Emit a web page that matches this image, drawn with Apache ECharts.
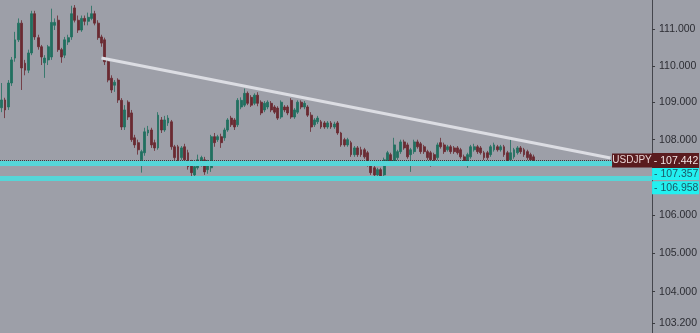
<!DOCTYPE html>
<html>
<head>
<meta charset="utf-8">
<script src="https://cdn.jsdelivr.net/npm/echarts@6/dist/echarts.min.js"></script>
<style>
html,body{margin:0;padding:0;background:#9d9fa8;}
#chart{width:700px;height:333px;}
</style>
</head>
<body>
<div id="chart"></div>
<script>
// USDJPY candles
const opens = [
108.86,109.07,108.88,109.53,110.21,110.71,111.17,110.07,109.88,110.35,
111.43,110.77,110.52,110.08,110.16,110.24,111.11,111.25,110.44,110.29,
110.65,110.79,111.59,111.25,110.98,111.30,111.22,111.30,111.43,111.17,
110.79,110.71,110.11,109.66,109.47,109.61,109.06,108.34,109.01,108.72,
108.05,107.92,107.46,107.65,108.18,108.26,107.92,107.78,108.53,108.26,
108.45,108.48,107.81,107.81,107.52,107.81,107.65,107.38,107.06,107.25,
107.33,107.46,107.20,107.25,108.08,108.00,108.08,108.05,108.26,108.58,
108.53,108.40,108.88,108.93,109.25,109.14,108.98,109.20,109.01,108.80,
108.88,108.98,108.88,108.85,108.61,108.88,108.88,109.06,108.61,108.74,
109.01,108.88,108.88,108.66,108.40,108.48,108.48,108.45,108.34,108.45,
108.34,108.45,108.18,108.00,107.86,107.92,107.60,107.78,107.73,107.73,
107.65,107.38,107.25,107.06,107.20,107.06,107.38,107.60,107.41,107.52,
107.68,107.94,107.86,107.60,107.68,107.94,107.89,107.81,107.68,107.65,
107.60,107.52,107.92,107.86,107.73,107.81,107.78,107.78,107.73,107.54,
107.33,107.54,107.73,107.81,107.78,107.65,107.65,107.60,107.73,107.81,
107.73,107.81,107.65,107.46,107.54,107.65,107.78,107.73,107.68,107.60,
107.54];
const closes = [
109.07,108.80,109.53,110.16,110.71,111.17,109.94,109.88,110.35,111.43,
110.79,110.52,110.24,110.21,110.52,111.19,111.19,110.44,110.24,110.71,
110.77,111.43,111.25,110.98,111.30,111.22,111.33,111.43,111.17,110.77,
110.62,110.11,109.61,109.34,109.55,109.07,108.34,108.80,108.61,108.00,
107.86,107.73,107.68,108.21,108.26,107.86,107.78,108.66,108.26,108.53,
108.58,107.81,107.52,107.46,107.78,107.46,107.28,107.12,107.28,107.46,
107.52,107.14,107.38,108.08,107.92,108.08,107.92,108.26,108.53,108.40,
108.34,109.06,109.06,109.25,108.98,108.93,109.20,108.98,108.72,108.98,
109.01,108.80,108.74,108.58,109.01,108.80,108.72,108.61,108.80,109.01,
108.88,108.98,108.66,108.34,108.53,108.58,108.34,108.34,108.45,108.34,
108.42,108.18,107.86,107.86,108.00,107.60,107.78,107.60,107.60,107.54,
107.33,107.12,107.06,107.20,107.01,107.46,107.65,107.41,107.86,107.68,
107.94,107.78,107.54,107.73,107.94,107.81,107.68,107.68,107.52,107.46,
107.46,107.86,107.81,107.68,107.81,107.68,107.68,107.65,107.54,107.38,
107.60,107.81,107.81,107.68,107.65,107.52,107.52,107.81,107.86,107.73,
107.81,107.60,107.41,107.65,107.73,107.78,107.68,107.60,107.52,107.46,
107.44];
const lows = [
108.74,108.58,108.80,109.45,110.11,110.65,109.34,109.74,109.80,110.29,
110.71,110.44,110.02,109.67,110.02,110.16,110.98,110.38,110.08,110.21,
110.57,110.71,111.19,110.90,110.93,111.11,111.11,111.25,111.11,110.71,
110.52,110.02,109.55,109.26,109.29,108.99,108.26,108.26,108.53,107.94,
107.78,107.60,107.12,107.57,108.10,107.78,107.70,107.73,108.18,108.21,
108.37,107.73,107.46,107.41,107.46,107.38,107.20,106.93,106.98,107.20,
107.28,107.06,107.09,107.14,107.81,107.94,107.78,107.97,108.21,108.34,
108.26,108.34,108.82,108.88,108.93,108.88,108.93,108.90,108.66,108.74,
108.82,108.74,108.69,108.53,108.56,108.74,108.66,108.56,108.56,108.69,
108.82,108.82,108.61,108.21,108.34,108.42,108.29,108.29,108.29,108.29,
108.29,108.13,107.81,107.81,107.81,107.54,107.54,107.54,107.54,107.49,
107.28,107.06,107.01,106.93,106.93,107.01,107.33,107.36,107.36,107.46,
107.62,107.73,107.49,107.14,107.62,107.76,107.62,107.62,107.46,107.28,
107.41,107.46,107.76,107.62,107.68,107.62,107.62,107.60,107.49,107.33,
107.25,107.49,107.68,107.62,107.60,107.46,107.46,107.54,107.68,107.68,
107.68,107.54,107.36,107.41,107.49,107.60,107.62,107.54,107.46,107.41,
107.38];
const highs = [
109.53,109.13,109.61,110.24,110.93,111.30,111.25,110.16,110.44,111.51,
111.51,110.85,110.57,110.29,110.57,111.57,111.30,111.38,110.49,110.79,
110.85,111.65,111.67,111.38,111.38,111.38,111.46,111.65,111.51,111.25,
110.85,110.77,110.16,109.74,109.61,109.66,109.12,108.93,109.06,108.80,
108.13,108.00,107.73,108.32,108.37,108.32,108.00,108.74,108.61,108.64,
108.66,108.53,107.86,107.86,107.83,107.89,107.73,107.46,107.33,107.60,
107.57,107.54,107.46,108.13,108.18,108.13,108.16,108.32,108.58,108.64,
108.58,109.12,109.14,109.38,109.30,109.20,109.25,109.28,109.06,109.04,
109.06,109.04,108.93,108.90,109.06,108.93,108.93,109.12,108.85,109.06,
109.06,109.04,108.93,108.74,108.58,108.64,108.53,108.50,108.50,108.50,
108.48,108.50,108.21,108.05,108.05,107.97,107.83,107.83,107.81,107.78,
107.70,107.44,107.30,107.25,107.25,107.52,107.70,107.65,108.05,107.73,
108.00,108.00,107.92,107.78,108.00,108.00,107.94,107.86,107.73,107.70,
107.65,107.92,108.05,107.92,107.86,107.86,107.83,107.83,107.78,107.60,
107.65,107.86,107.89,107.86,107.83,107.70,107.70,107.86,107.92,107.86,
107.86,107.86,107.70,108.05,107.78,107.83,107.83,107.78,107.73,107.65,
107.60];

// bar slots on the time axis (the right part stays empty)
const slotCount = 196;
const categories = Array.from({length: slotCount}, (_, i) => String(i + 1));

// price levels
const lastPrice = 107.442;
const levelPrices = [107.357, 106.958];
const tickLabels = [103.2, 104, 105, 106, 108, 109, 110, 111];
// trend line: [category index, price]
const trendStart = [30, 110.21];
const trendEnd = [183, 107.51];

const candleData = opens.map((o, i) => [o, closes[i], lows[i], highs[i]]);

const chart = echarts.init(document.getElementById('chart'), null, {renderer: 'canvas'});
const font = 'Liberation Sans, Arial, sans-serif';

chart.setOption({
  animation: false,
  backgroundColor: '#9d9fa8',
  grid: {left: 0, right: 47, top: 0, bottom: 0},
  xAxis: {
    type: 'category',
    data: categories,
    boundaryGap: true,
    axisLine: {show: false},
    axisTick: {show: false},
    axisLabel: {show: false},
    splitLine: {show: false}
  },
  yAxis: {
    type: 'log',
    logBase: 10,
    position: 'right',
    min: 102.94,
    max: 111.81,
    axisLine: {show: true, lineStyle: {color: '#45464d', width: 1}},
    axisTick: {show: true, length: 3, lineStyle: {color: '#3a3b40'}, customValues: tickLabels},
    axisLabel: {
      color: '#2c2d33', fontSize: 10.5, fontFamily: font, margin: 7,
      customValues: tickLabels,
      formatter: v => Number(v).toFixed(3)
    },
    splitLine: {show: false}
  },
  series: [{
    type: 'candlestick',
    data: candleData,
    barWidth: 2.4,
    itemStyle: {
      color: '#21705f', color0: '#6a2a31',
      borderColor: '#21705f', borderColor0: '#6a2a31',
      borderWidth: 0.8
    },
    markLine: {
      silent: true,
      symbol: ['none', 'none'],
      animation: false,
      data: [
        {
          yAxis: levelPrices[0],
          lineStyle: {color: '#55d6d8', width: 5, type: 'solid'},
          label: {
            show: true, position: 'end', distance: 0, offset: [0, 10],
            formatter: '- ' + levelPrices[0].toFixed(3),
            backgroundColor: '#22f0f0', color: '#1c5866',
            fontSize: 10.5, fontFamily: font, width: 43, padding: [1, 2, 1, 2], lineHeight: 11
          }
        },
        {
          yAxis: levelPrices[1],
          lineStyle: {color: '#55d6d8', width: 5, type: 'solid'},
          label: {
            show: true, position: 'end', distance: 0, offset: [0, 9],
            formatter: '- ' + levelPrices[1].toFixed(3),
            backgroundColor: '#22f0f0', color: '#1c5866',
            fontSize: 10.5, fontFamily: font, width: 43, padding: [1, 2, 1, 2], lineHeight: 11
          }
        },
        {
          yAxis: lastPrice,
          lineStyle: {color: '#3a3a3e', width: 1, type: 'dotted'},
          label: {
            show: true, position: 'end', distance: 0, offset: [-40, 0],
            formatter: '{a|USDJPY}{b|- ' + lastPrice.toFixed(3) + '}',
            rich: {
              a: {backgroundColor: '#5a1b1e', color: '#ead4d4', fontSize: 10, fontFamily: font,
                  width: 36, align: 'center', padding: [2, 2, 2, 2], lineHeight: 10},
              b: {backgroundColor: '#5a1b1e', color: '#f2e2e2', fontSize: 10.5, fontFamily: font,
                  width: 44, padding: [2, 1, 2, 2], lineHeight: 10}
            }
          }
        },
        [
          {coord: trendStart, lineStyle: {color: '#dcdde3', width: 3, type: 'solid'}, label: {show: false}},
          {coord: trendEnd}
        ]
      ]
    }
  }]
});
</script>
</body>
</html>
